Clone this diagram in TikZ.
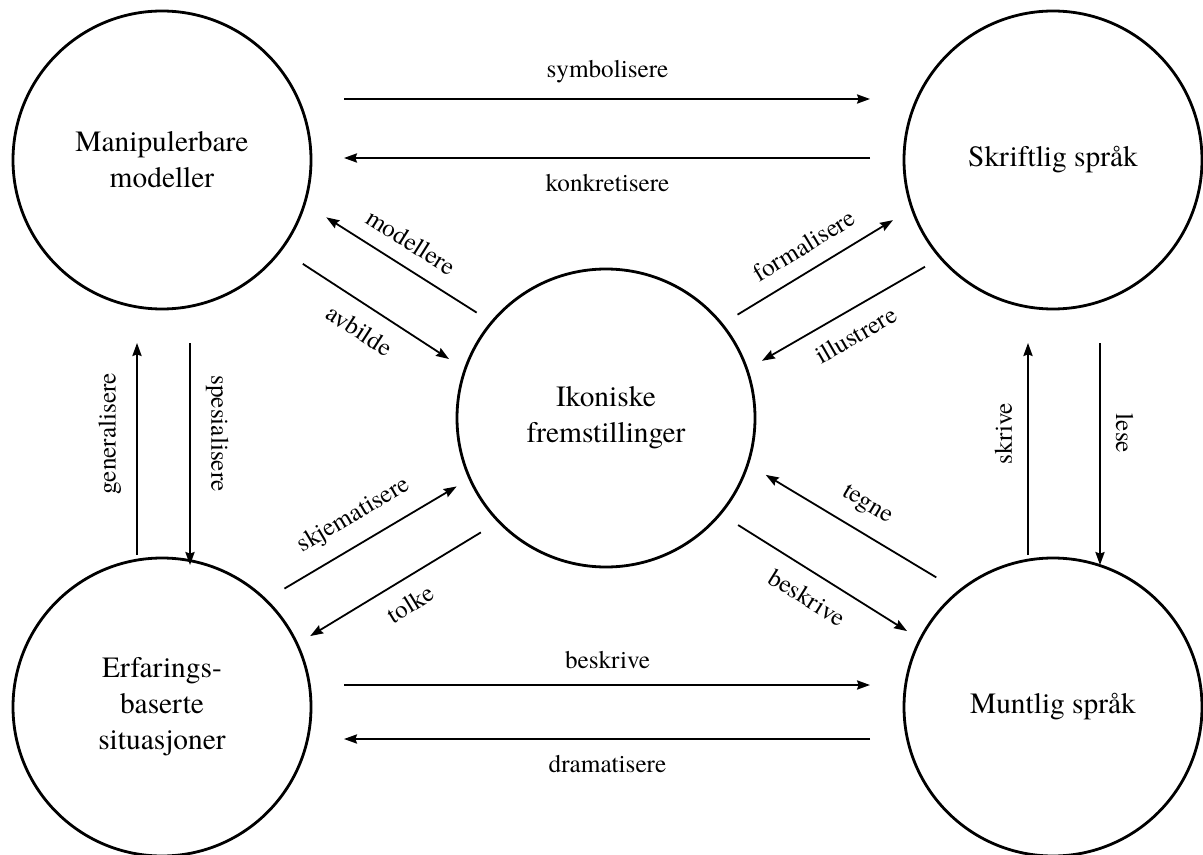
\documentclass[tikz,border=0pt]{standalone}
\usepackage{fontspec}
\setmainfont{TeX Gyre Termes}
\usetikzlibrary{arrows.meta}

\begin{document}
\begin{tikzpicture}[
    x=0.5pt, y=-0.5pt,
    >={Stealth[length=6.5pt, width=4.6pt, inset=0.8pt]},
    rep/.style={draw, circle, line width=1.4pt, minimum size=149pt, inner sep=0pt, outer sep=0pt, align=center, font=\fontsize{14.7}{18}\selectfont},
    arr/.style={->, line width=0.9pt},
    link/.style 2 args={arr, shorten <=#1, shorten >=#2},
    lbl/.style={font=\fontsize{12.6}{15}\selectfont, inner sep=7.5pt}
]
\useasboundingbox (0,0) rectangle (1203,855);

% the five forms of representation
\node[rep] (manip) at (162,160) {Manipulerbare\\modeller};
\node[rep] (skrift) at (1053,160) {Skriftlig språk};
\node[rep] (ikon) at (606,418) {Ikoniske\\fremstillinger};
\node[rep] (erfar) at (162,707) {Erfarings-\\baserte\\situasjoner};
\node[rep] (muntlig) at (1053,707) {Muntlig språk};

% horizontal pairs
\draw[link={16.5pt}{17pt}] ([yshift=30.5pt]manip.east) -- node[above, lbl] {symbolisere} ([yshift=30.5pt]skrift.west);
\draw[link={17pt}{16.5pt}] ([yshift=1pt]skrift.west) -- node[below, lbl] {konkretisere} ([yshift=1pt]manip.east);
\draw[link={16.5pt}{17pt}] ([yshift=11pt]erfar.east) -- node[above, lbl] {beskrive} ([yshift=11pt]muntlig.west);
\draw[link={17pt}{16.5pt}] ([yshift=-16pt]muntlig.west) -- node[below, lbl] {dramatisere} ([yshift=-16pt]erfar.east);

% vertical pairs
\draw[link={1.5pt}{17pt}] ([xshift=-12.5pt]erfar.north) -- node[above, sloped, lbl] {generalisere} ([xshift=-12.5pt]manip.south);
\draw[link={17pt}{-3.5pt}] ([xshift=14pt]manip.south) -- node[above, sloped, lbl] {spesialisere} ([xshift=14pt]erfar.north);
\draw[link={1.5pt}{17pt}] ([xshift=-12.5pt]muntlig.north) -- node[above, sloped, lbl] {skrive} ([xshift=-12.5pt]skrift.south);
\draw[link={17pt}{-3.5pt}] ([xshift=23.5pt]skrift.south) -- node[above, sloped, lbl] {lese} ([xshift=23.5pt]muntlig.north);

% to and from the centre
\draw[link={9pt}{12.9pt}] (ikon.140) -- node[above, sloped, lbl] {modellere} (manip.-17.5);
\draw[link={13pt}{9.6pt}] (manip.-37) -- node[below, sloped, lbl] {avbilde} (ikon.161);
\draw[link={9.2pt}{11.2pt}] (ikon.39.4) -- node[above, sloped, lbl] {formalisere} (skrift.199);
\draw[link={9pt}{8.7pt}] (skrift.221.5) -- node[below, sloped, lbl] {illustrere} (ikon.19.4);
\draw[link={11pt}{7.7pt}] (erfar.46) -- node[above, sloped, lbl] {skjematisere} (ikon.204.3);
\draw[link={10.5pt}{7.7pt}] (ikon.224.2) -- node[below, sloped, lbl] {tolke} (erfar.25.2);
\draw[link={13.4pt}{10.5pt}] (muntlig.129.7) -- node[above, sloped, lbl] {tegne} (ikon.-18);
\draw[link={10.6pt}{7.8pt}] (ikon.-40.9) -- node[below, sloped, lbl] {beskrive} (muntlig.153.2);

\end{tikzpicture}
\end{document}
